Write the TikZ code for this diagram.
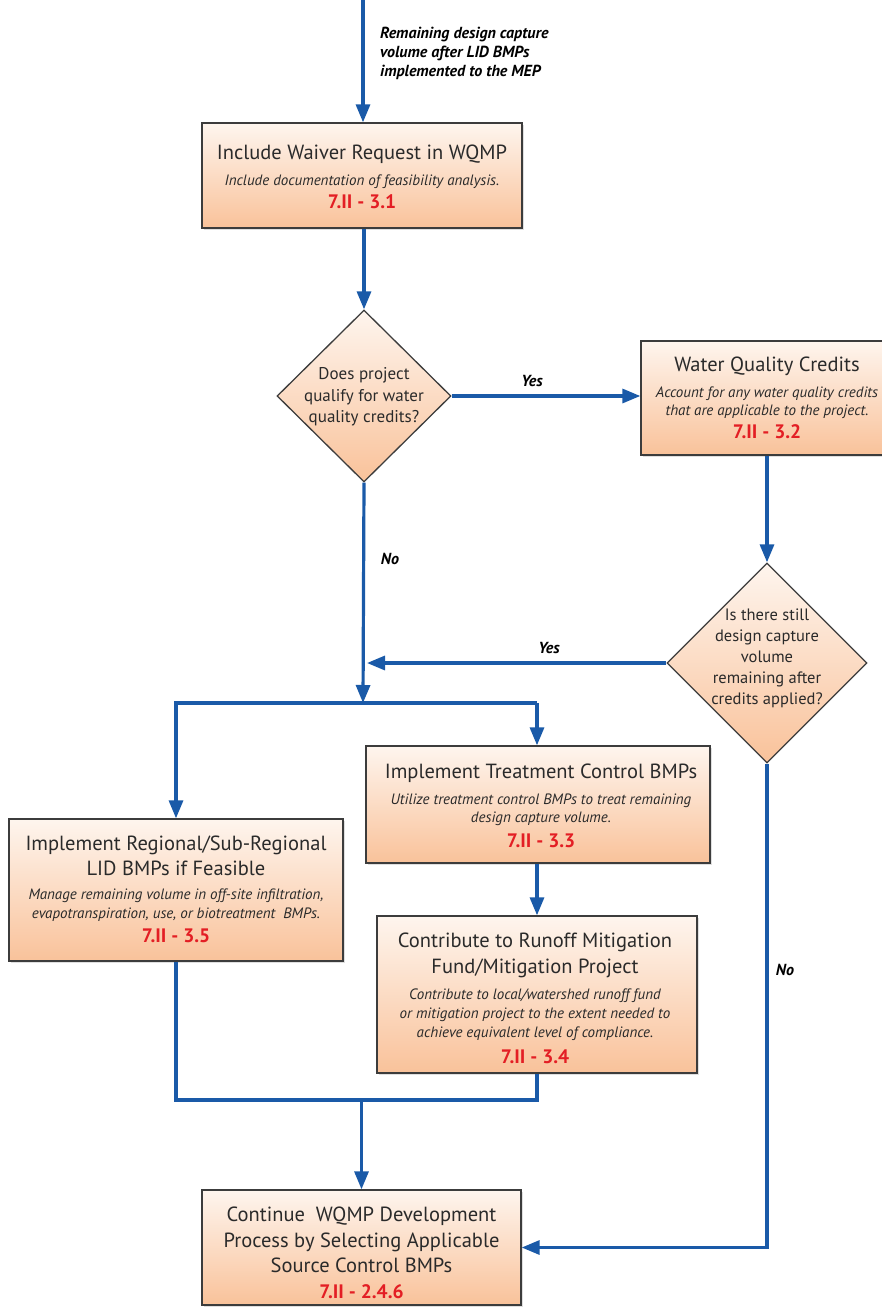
\documentclass[tikz,border=0pt]{standalone}
\usepackage{fontspec}
\setmainfont{PT Sans}
\usetikzlibrary{arrows.meta,shapes.geometric,shadows}

\definecolor{flowblue}{HTML}{1A5AA8}
\definecolor{codered}{HTML}{E31E24}
\definecolor{boxtop}{HTML}{FEF5EE}
\definecolor{boxbot}{HTML}{F9C29A}
\definecolor{edgegray}{HTML}{3C3C3C}
\definecolor{ink}{HTML}{2A2A2A}

\tikzset{
  stepbox/.style={rectangle, draw=edgegray, line width=1.3pt,
    top color=boxtop, bottom color=boxbot, inner sep=0pt,
    drop shadow={opacity=0.25, shadow xshift=1.5pt, shadow yshift=-1.5pt}},
  decision/.style={diamond, draw=edgegray, line width=1.3pt,
    top color=boxtop, bottom color=boxbot, inner sep=0pt, shape aspect=1},
  title/.style={anchor=base, inner sep=0pt, text=ink,
    font=\fontsize{20.5}{24}\selectfont},
  sub/.style={anchor=base, inner sep=0pt, text=ink,
    font=\fontsize{15}{18}\selectfont\itshape},
  code/.style={anchor=base, inner sep=0pt, text=codered,
    font=\fontsize{19.5}{22}\selectfont\bfseries},
  lab/.style={anchor=base, inner sep=0pt, text=black,
    font=\fontsize{16}{19}\selectfont\bfseries\itshape},
  qtext/.style={align=center, inner sep=0pt, text=ink},
  flow/.style={draw=flowblue, line width=3.2pt,
    -{Triangle[length=18pt,width=14pt]}},
  wire/.style={draw=flowblue, line width=3.2pt},
}

\begin{document}
\begin{tikzpicture}[x=1pt,y=-1pt]
\useasboundingbox (0,0) rectangle (882,1309);

% ---- boxes and decisions ----
\node[stepbox, minimum width=320pt, minimum height=105pt] (b1) at (362,175.5) {};
\node[decision, minimum width=174pt, minimum height=172pt] (d1) at (364,396) {};
\node[stepbox, minimum width=252pt, minimum height=114pt] (b2) at (767,398) {};
\node[decision, minimum width=200pt, minimum height=200pt] (d2) at (767,663) {};
\node[stepbox, minimum width=344pt, minimum height=117pt] (b3) at (538,804.5) {};
\node[stepbox, minimum width=320pt, minimum height=157pt] (b4) at (537,994.5) {};
\node[stepbox, minimum width=334pt, minimum height=142pt] (b5) at (176,890) {};
\node[stepbox, minimum width=319pt, minimum height=115pt] (b6) at (361.5,1247.5) {};

% ---- box texts ----
\node[title] (b1a) at (362,159) {Include Waiver Request in WQMP};
\node[sub]   (b1b) at (362,185) {Include documentation of feasibility analysis.};
\node[code]  (b1c) at (362,208) {7.II - 3.1};

\node[title] (b2a) at (767,371) {Water Quality Credits};
\node[sub]   (b2b) at (767,397) {Account for any water quality credits};
\node[sub]   (b2c) at (767,415) {that are applicable to the project.};
\node[code]  (b2d) at (767,438) {7.II - 3.2};

\node[title] (b3a) at (541,778) {Implement Treatment Control BMPs};
\node[sub]   (b3b) at (541,804) {Utilize treatment control BMPs to treat remaining};
\node[sub]   (b3c) at (541,822) {design capture volume.};
\node[code]  (b3d) at (541,847) {7.II - 3.3};

\node[title] (b4a) at (535,947) {Contribute to Runoff Mitigation};
\node[title] (b4b) at (535,973) {Fund/Mitigation Project};
\node[sub]   (b4c) at (535,999) {Contribute to local/watershed runoff fund};
\node[sub]   (b4d) at (535,1018) {or mitigation project to the extent needed to};
\node[sub]   (b4e) at (535,1037) {achieve equivalent level of compliance.};
\node[code]  (b4f) at (535,1063) {7.II - 3.4};

\node[title] (b5a) at (176,850) {Implement Regional/Sub-Regional};
\node[title] (b5b) at (176,875) {LID BMPs if Feasible};
\node[sub]   (b5c) at (176,899) {Manage remaining volume in off-site infiltration,};
\node[sub]   (b5d) at (176,918) {evapotranspiration, use, or biotreatment\ \ BMPs.};
\node[code]  (b5e) at (176,942) {7.II - 3.5};

\node[title] (b6a) at (361.5,1221) {Continue\ \ WQMP Development};
\node[title] (b6b) at (361.5,1247) {Process by Selecting Applicable};
\node[title] (b6c) at (361.5,1272) {Source Control BMPs};
\node[code]  (b6d) at (361.5,1298) {7.II - 2.4.6};

% ---- decision texts ----
\node[qtext, font=\fontsize{17}{21.5}\selectfont] (d1t) at (364,397)
  {Does project\\qualify for water\\quality credits?};
\node[qtext, font=\fontsize{16.5}{21}\selectfont] (d2t) at (767,658)
  {Is there still\\design capture\\volume\\remaining after\\credits applied?};

% ---- connector labels ----
\node[lab, anchor=base west] (inA) at (380,38) {Remaining design capture};
\node[lab, anchor=base west] (inB) at (380,57) {volume after LID BMPs};
\node[lab, anchor=base west] (inC) at (380,76) {implemented to the MEP};
\node[lab] (yes1) at (532,386) {Yes};
\node[lab] (no1)  at (390,564) {No};
\node[lab] (yes2) at (549,653) {Yes};
\node[lab] (no2)  at (785,975) {No};

% ---- connectors ----
\coordinate (start) at (363,0);
\coordinate (bus) at (363,703);
\coordinate (merge) at (361.5,1100);
\coordinate (join) at (d1.south |- d2.west);

\draw[flow] (start) -- (b1.north -| start);
\draw[flow] (b1.south -| d1.south) -- (d1.north);
\draw[flow] (d1.east) -- (d1.east -| b2.west);
\draw[flow] (b2.south) -- (d2.north);
\draw[flow] (d2.west) -- ([xshift=3pt]join);
\draw[flow] (d1.south) -- (bus);
\draw[wire] (b5.north |- bus) -- (b4.north |- bus);
\draw[flow] (bus) -| (b5.north);
\draw[flow] (bus -| b4.north) -- (b4.north |- b3.north);
\draw[flow] (b3.south -| b4.north) -- (b4.north);
\draw[wire] (b5.south) |- (merge) -| (b4.south);
\draw[flow] (merge) -- (b6.north);
\draw[flow] (d2.south) |- (b6.east);
\end{tikzpicture}
\end{document}
